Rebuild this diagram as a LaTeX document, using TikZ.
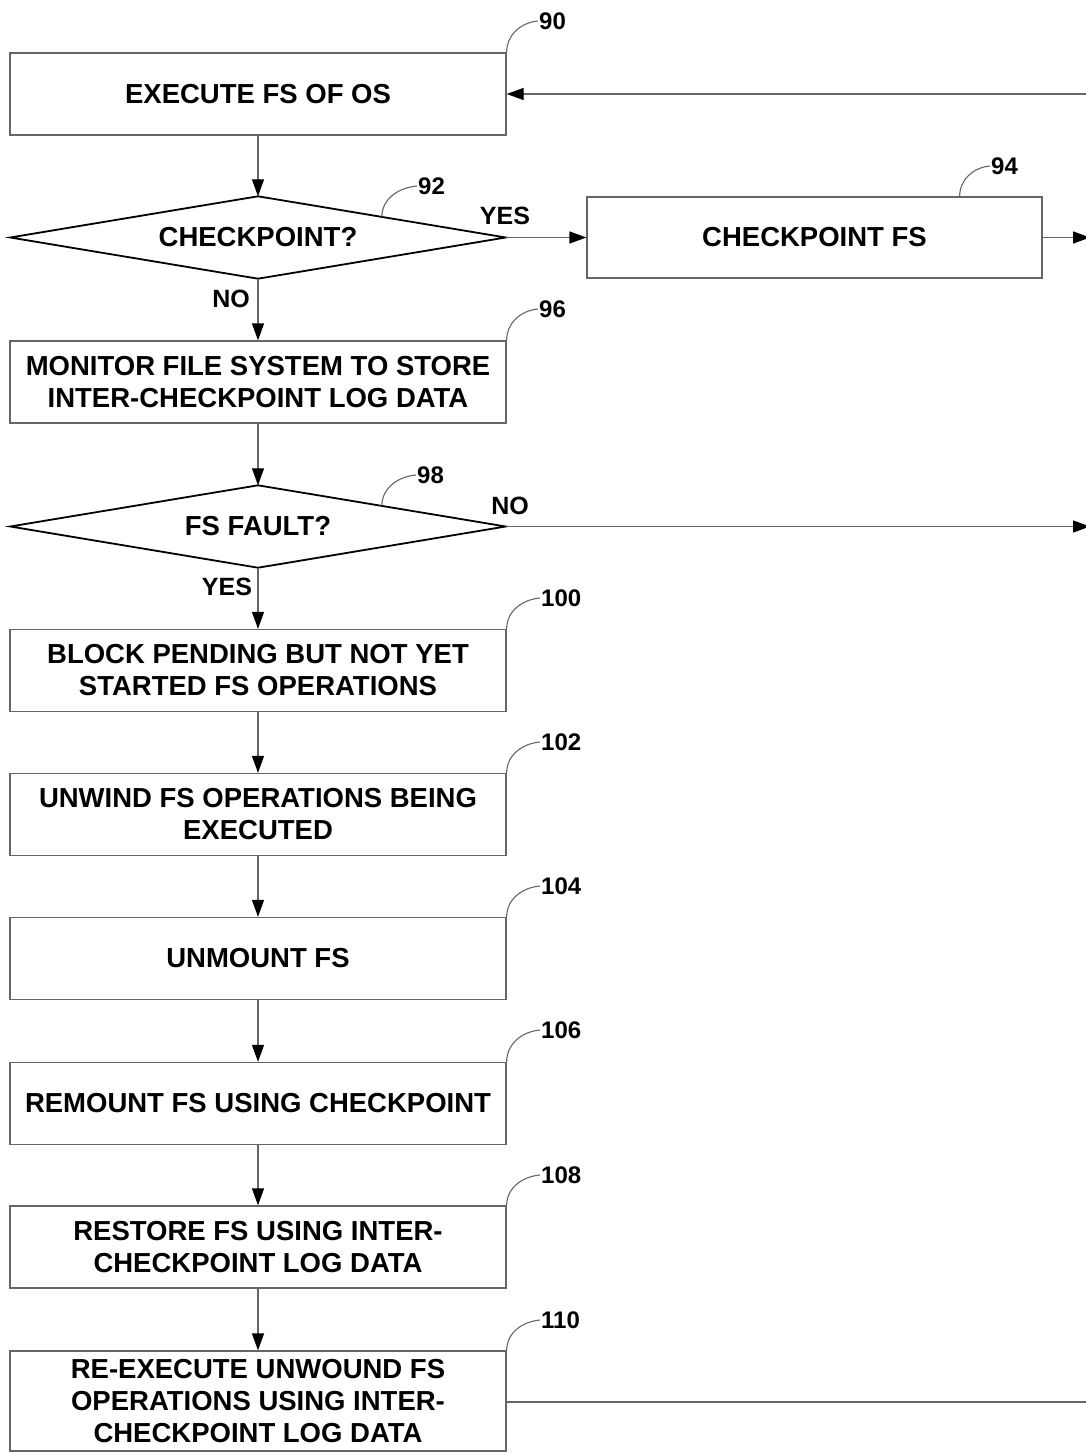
\documentclass[tikz,border=0pt]{standalone}
\usepackage{fontspec}
\setmainfont{Liberation Sans}
\usetikzlibrary{arrows.meta,calc}
\tikzset{
  box/.style={draw=black!60, line width=1.3pt, minimum width=496pt, minimum height=82pt,
    align=center, inner sep=0pt, font=\fontsize{27.5}{32}\selectfont\bfseries},
  diabox/.style={minimum width=495pt, minimum height=82pt,
    align=center, inner sep=0pt, font=\fontsize{27.5}{32}\selectfont\bfseries},
  diaedge/.style={draw=black, line width=1.8pt, line join=miter},
  conn/.style={draw=black!60, line width=1.3pt},
  arr/.style={conn, -{Triangle[length=17pt,width=12pt,color=black]}},
  lead/.style={draw=black!60, line width=1.1pt},
  num/.style={font=\fontsize{24}{26}\selectfont\bfseries, inner sep=1pt, anchor=west},
  yn/.style={font=\fontsize{25}{26}\selectfont\bfseries, inner sep=0pt}
}
\begin{document}
\begin{tikzpicture}[x=1pt,y=-1pt]
\useasboundingbox[fill=white] (0,0) rectangle (1086,1453);
% nodes
\node[box] (b90) at (258,94) {EXECUTE FS OF OS};
\node[diabox] (d92) at (258,237.5) {CHECKPOINT?};
\node[box, minimum width=455pt, minimum height=81pt] (b94) at (814.5,237.5) {CHECKPOINT FS};
\node[box] (b96) at (258,382) {MONITOR FILE SYSTEM TO STORE\\INTER-CHECKPOINT LOG DATA};
\node[diabox] (d98) at (258,526.5) {FS FAULT?};
\node[box] (b100) at (258,670.5) {BLOCK PENDING BUT NOT YET\\STARTED FS OPERATIONS};
\node[box] (b102) at (258,814.5) {UNWIND FS OPERATIONS BEING\\EXECUTED};
\node[box] (b104) at (258,958.5) {UNMOUNT FS};
\node[box] (b106) at (258,1103.5) {REMOUNT FS USING CHECKPOINT};
\node[box] (b108) at (258,1247) {RESTORE FS USING INTER-\\CHECKPOINT LOG DATA};
\node[box, minimum height=100pt] (b110) at (258,1401) {RE-EXECUTE UNWOUND FS\\OPERATIONS USING INTER-\\CHECKPOINT LOG DATA};
% diamond outlines
\draw[diaedge] (d92.north) -- (d92.east) -- (d92.south) -- (d92.west) -- cycle;
\draw[diaedge] (d98.north) -- (d98.east) -- (d98.south) -- (d98.west) -- cycle;
% right edge coordinates
\coordinate (r90) at (1092,94);
\coordinate (r94) at (1090,237.5);
\coordinate (r98) at (1090,526.5);
\coordinate (r110) at (1092,1402);
% connectors
\draw[arr] (b90) -- (d92.north);
\draw[arr] (d92.east) -- (b94.west);
\draw[arr] (b94.east) -- (r94);
\draw[arr] (d92.south) -- (b96.north);
\draw[arr] (b96) -- (d98.north);
\draw[arr] (d98.east) -- (r98);
\draw[arr] (d98.south) -- (b100.north);
\draw[arr] (b100) -- (b102);
\draw[arr] (b102) -- (b104);
\draw[arr] (b104) -- (b106);
\draw[arr] (b106) -- (b108);
\draw[arr] (b108) -- (b110);
\draw[arr] (r90) -- (b90.east);
\draw[conn] (b110.east |- r110) -- (r110);
% yes/no labels
\node[yn] (y92) at (505,216) {YES};
\node[yn] (n92) at (231,299) {NO};
\node[yn] (n98) at (510,506) {NO};
\node[yn] (y98) at (227,587) {YES};
% reference numerals
\node[num] (l90) at (538,21) {90};
\node[num] (l92) at (417,186) {92};
\node[num] (l94) at (990,166) {94};
\node[num] (l96) at (538,309) {96};
\node[num] (l98) at (416,475) {98};
\node[num] (l100) at (540,598) {100};
\node[num] (l102) at (540,742) {102};
\node[num] (l104) at (540,886) {104};
\node[num] (l106) at (540,1030) {106};
\node[num] (l108) at (540,1175) {108};
\node[num] (l110) at (540,1320) {110};
% leaders
\draw[lead] (b90.north east) to[out=90,in=185] (l90.west);
\draw[lead] ($(d92.north)!0.5!(d92.east)$) to[out=90,in=185] (l92.west);
\draw[lead] ($(b94.north east)+(-83,0)$) to[out=90,in=185] (l94.west);
\draw[lead] (b96.north east) to[out=90,in=185] (l96.west);
\draw[lead] ($(d98.north)!0.5!(d98.east)$) to[out=90,in=185] (l98.west);
\draw[lead] (b100.north east) to[out=90,in=185] (l100.west);
\draw[lead] (b102.north east) to[out=90,in=185] (l102.west);
\draw[lead] (b104.north east) to[out=90,in=185] (l104.west);
\draw[lead] (b106.north east) to[out=90,in=185] (l106.west);
\draw[lead] (b108.north east) to[out=90,in=185] (l108.west);
\draw[lead] (b110.north east) to[out=90,in=185] (l110.west);
\end{tikzpicture}
\end{document}
